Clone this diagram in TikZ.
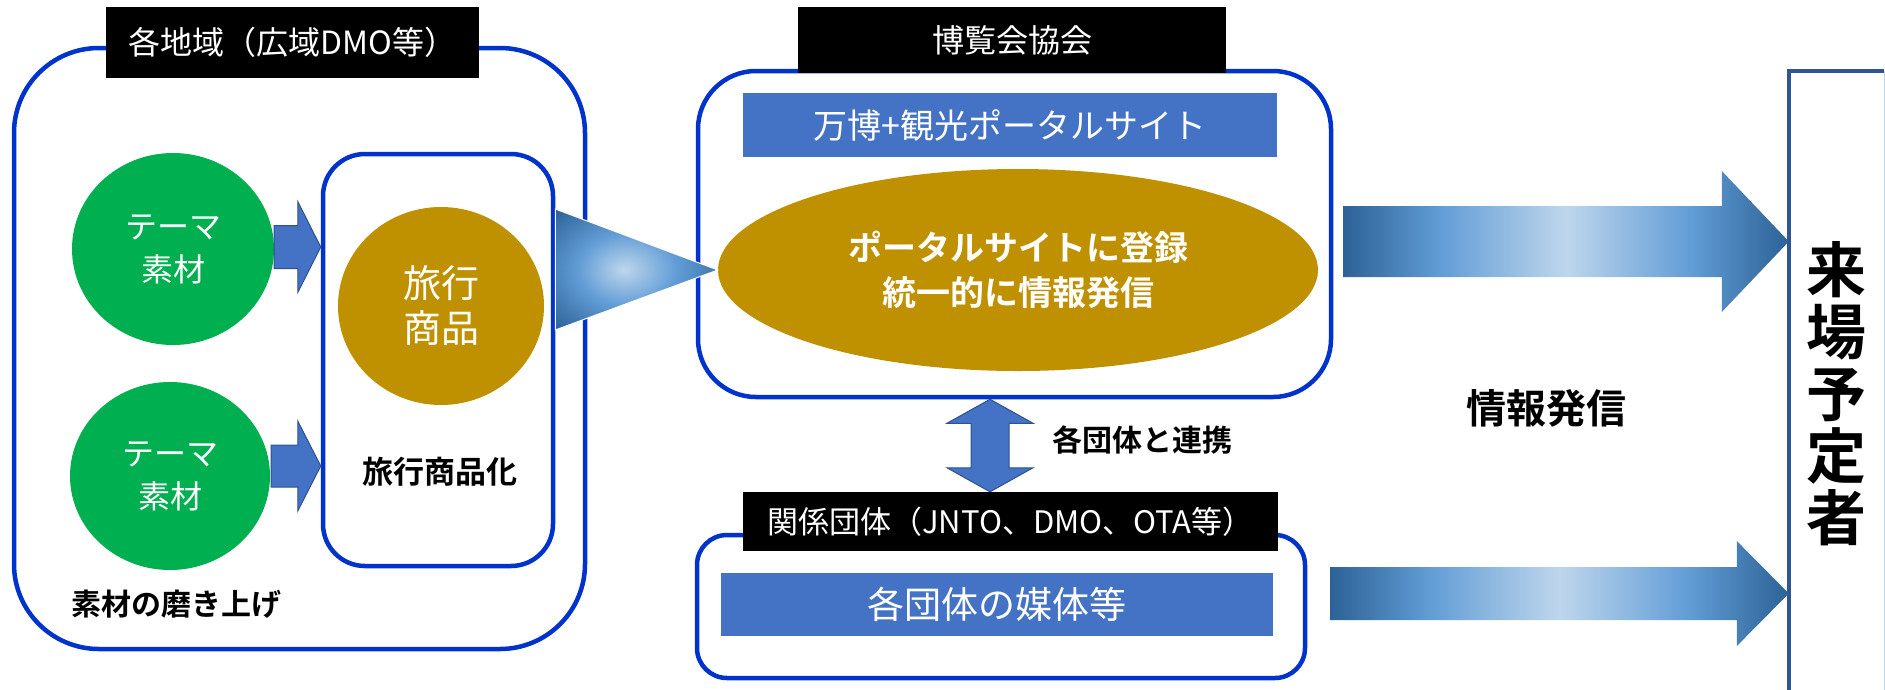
\documentclass[tikz,border=0pt]{standalone}
\usepackage{fontspec}
\setmainfont{Noto Sans CJK JP}[BoldFont={Noto Sans CJK JP Bold}]
\usetikzlibrary{shapes,shapes.geometric,calc,positioning}

\definecolor{frameblue}{RGB}{0,51,204}
\definecolor{themegreen}{RGB}{0,176,80}
\definecolor{goodsgold}{RGB}{191,144,0}
\definecolor{barblue}{RGB}{68,114,196}
\definecolor{baredge}{RGB}{47,82,143}
\definecolor{shadedark}{RGB}{44,98,150}
\definecolor{shademid}{RGB}{98,157,214}
\definecolor{shadelight}{RGB}{190,214,236}
\definecolor{visitoredge}{RGB}{47,85,151}

\pgfdeclarehorizontalshading{sendshade}{100bp}{color(0bp)=(shadedark); color(25bp)=(shadedark); color(36bp)=(shademid); color(50bp)=(shadelight); color(64bp)=(shademid); color(75bp)=(shadedark); color(100bp)=(shadedark)}
\pgfdeclareradialshading{funnelshade}{\pgfpoint{-4bp}{0bp}}{color(0bp)=(shadelight); color(15bp)=(shademid); color(34bp)=(shadedark); color(50bp)=(shadedark)}

% block arrow: style, tail, tip, half shaft, half head, head length
\newcommand{\hblockarrow}[6]{%
  \path[#1] ($(#2)+(0,-#4)$) -- ($(#3)+(-#6,-#4)$) -- ($(#3)+(-#6,-#5)$) -- (#3)
    -- ($(#3)+(-#6,#5)$) -- ($(#3)+(-#6,#4)$) -- ($(#2)+(0,#4)$) -- cycle;}

\begin{document}
\begin{tikzpicture}
[x=1pt,y=-1pt,
 region/.style={draw=frameblue,line width=4.5pt},
 tag/.style={fill=black,text=white,inner sep=0pt,font=\fontsize{32}{37}\selectfont},
 theme/.style={ellipse,fill=themegreen,text=white,align=center,inner sep=0pt,
   font=\fontsize{32}{43}\selectfont},
 goods/.style={ellipse,fill=goodsgold,text=white,align=center,inner sep=0pt},
 bar/.style={fill=barblue,text=white,inner sep=0pt},
 note/.style={font=\fontsize{30}{36}\selectfont\bfseries,inner sep=0pt},
 smallarrow/.style={draw=baredge,fill=barblue,line width=1pt},
 sendarrow/.style={shade,shading=sendshade}]
\useasboundingbox (0,0) rectangle (1885,689);

% left: regions
\node[region,rounded corners=85pt,minimum width=571pt,minimum height=601pt] (area) at (299.5,348.5) {};
\node[tag,minimum width=373pt,minimum height=71pt] (areatag) at (292.5,42) {各地域（広域DMO等）};
\node[theme,minimum width=202pt,minimum height=192pt] (theme1) at (173,249) {テーマ\\素材};
\node[theme,minimum width=200pt,minimum height=188pt] (theme2) at (170,476) {テーマ\\素材};
\node[region,rounded corners=42pt,minimum width=230pt,minimum height=412pt] (shop) at (438,360) {};
\node[goods,minimum width=206pt,minimum height=198pt,font=\fontsize{38}{45}\selectfont] (goods) at (441,306) {旅行\\商品};
\node[note,font=\fontsize{31}{36}\selectfont\bfseries] (shoptext) at (440,472) {旅行商品化};
\node[note] (areatext) at (176,604) {素材の磨き上げ};

\coordinate (a1) at (274,247);
\coordinate (a1tip) at (shop.west |- a1);
\hblockarrow{smallarrow}{a1}{a1tip}{21.5}{45.5}{23}
\coordinate (a2) at (271,466);
\coordinate (a2tip) at (shop.west |- a2);
\hblockarrow{smallarrow}{a2}{a2tip}{21}{45}{23}

% middle: expo association
\node[region,rounded corners=58pt,minimum width=633pt,minimum height=326pt] (expo) at (1014.5,234) {};
\node[tag,minimum width=428pt,minimum height=66pt] (expotag) at (1012,40) {博覧会協会};
\node[bar,minimum width=534pt,minimum height=64pt,font=\fontsize{34}{38}\selectfont] (portalbar) at (1010,125) {万博+観光ポータルサイト};
\node[goods,minimum width=600pt,minimum height=202pt,font=\fontsize{34}{45}\selectfont\bfseries] (portal) at (1018,270) {ポータルサイトに登録\\統一的に情報発信};

% funnel from goods to portal
\coordinate (fun) at (shop.east |- portal.west);
\shade[shading=funnelshade,draw=white,line width=1pt] ($(fun)+(0,-61)$) -- (portal.west) -- ($(fun)+(0,60)$) -- cycle;

% middle: partner bodies
\node[region,rounded corners=30pt,minimum width=608pt,minimum height=143pt] (partner) at (1001,606.5) {};
\node[tag,minimum width=535pt,minimum height=59pt,font=\fontsize{31}{37}\selectfont] (partnertag) at (1010.5,521.5) {関係団体（JNTO、DMO、OTA等）};
\node[bar,minimum width=552pt,minimum height=63pt,font=\fontsize{37}{40}\selectfont] (mediabar) at (997,604.5) {各団体の媒体等};

\coordinate (lk1) at (expo.south -| 990,0);
\coordinate (lk2) at (partnertag.north -| 990,0);
\draw[smallarrow] (lk1) -- ++(43,24) -- ++(-24,0) -- ($(lk2)+(19,-24)$) -- ++(24,0) -- (lk2)
  -- ++(-43,-24) -- ++(24,0) -- ($(lk1)+(-19,24)$) -- ++(-24,0) -- cycle;
\node[note] (linktext) at (1142,440) {各団体と連携};

% right: visitors
\node[inner sep=0pt,minimum width=95pt,minimum height=646pt,align=center,
  font=\fontsize{60}{62}\selectfont\bfseries] (visitor) at (1836.5,394) {来\\場\\予\\定\\者};
\draw[visitoredge,line width=4.5pt] (visitor.south west) -- (visitor.north west) -- (visitor.north east);
\draw[shadelight,line width=1pt] (visitor.north east) -- (visitor.south east);

\coordinate (s1) at (1343,241.5);
\coordinate (s1tip) at (visitor.west |- s1);
\hblockarrow{sendarrow}{s1}{s1tip}{35.5}{70.5}{67}
\coordinate (s2) at (1330,593.5);
\coordinate (s2tip) at (visitor.west |- s2);
\hblockarrow{sendarrow}{s2}{s2tip}{26.5}{52.5}{52}
\node[note,font=\fontsize{40}{46}\selectfont\bfseries] (sendtext) at (1546,408) {情報発信};
\end{tikzpicture}
\end{document}
